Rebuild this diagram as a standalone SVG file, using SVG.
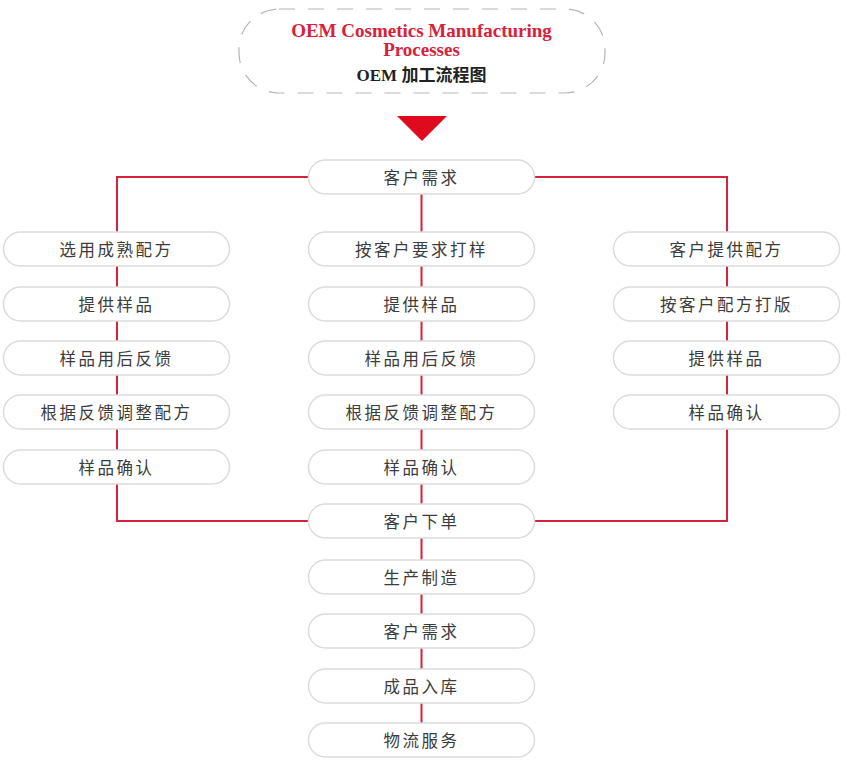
<svg xmlns="http://www.w3.org/2000/svg" width="859" height="763" viewBox="0 0 859 763">
<style>
.box{fill:#fff;stroke:#dcdcdc;stroke-width:1.5}
.lbl{font-family:"Noto Sans CJK SC","Noto Sans",sans-serif;font-size:16.5px;fill:#3c3c3c;text-anchor:middle;dominant-baseline:central;letter-spacing:2.5px}
.conn{fill:none;stroke:#d8213b;stroke-width:2}
.ttl{font-family:"Liberation Serif",serif;font-weight:bold;font-size:19px;fill:#d8213b;text-anchor:middle}
</style>
<rect width="859" height="763" fill="#fff"/>
<g id="title">
<rect x="239" y="9" width="366" height="84" rx="40" ry="40" fill="none" stroke="#b5b5b5" stroke-width="1.2" stroke-dasharray="16 13"/>
<text class="ttl" x="421.5" y="37">OEM Cosmetics Manufacturing</text>
<text class="ttl" x="421.5" y="56">Processes</text>
<text x="421.5" y="81" text-anchor="middle" font-family="'Liberation Serif','Noto Sans CJK SC',serif" font-weight="bold" font-size="17px" fill="#222">OEM 加工流程图</text>
<polygon points="397,116 447,116 422,141" fill="#e00a1e"/>
</g>
<g id="connectors">
<path class="conn" d="M421.5 177 V740"/>
<path class="conn" d="M421.5 177 H117 V521 H727 V177 H421.5"/>
</g>
<g id="c1"><rect class="box" x="308.5" y="160" width="226" height="34" rx="17"/><text class="lbl" x="421.5" y="177">客户需求</text></g>
<g id="l1"><rect class="box" x="3.5" y="232" width="226" height="34" rx="17"/><text class="lbl" x="116.5" y="249">选用成熟配方</text></g>
<g id="l2"><rect class="box" x="3.5" y="287" width="226" height="34" rx="17"/><text class="lbl" x="116.5" y="304">提供样品</text></g>
<g id="l3"><rect class="box" x="3.5" y="341" width="226" height="34" rx="17"/><text class="lbl" x="116.5" y="358">样品用后反馈</text></g>
<g id="l4"><rect class="box" x="3.5" y="395" width="226" height="34" rx="17"/><text class="lbl" x="116.5" y="412">根据反馈调整配方</text></g>
<g id="l5"><rect class="box" x="3.5" y="450" width="226" height="34" rx="17"/><text class="lbl" x="116.5" y="467">样品确认</text></g>
<g id="m1"><rect class="box" x="308.5" y="232" width="226" height="34" rx="17"/><text class="lbl" x="421.5" y="249">按客户要求打样</text></g>
<g id="m2"><rect class="box" x="308.5" y="287" width="226" height="34" rx="17"/><text class="lbl" x="421.5" y="304">提供样品</text></g>
<g id="m3"><rect class="box" x="308.5" y="341" width="226" height="34" rx="17"/><text class="lbl" x="421.5" y="358">样品用后反馈</text></g>
<g id="m4"><rect class="box" x="308.5" y="395" width="226" height="34" rx="17"/><text class="lbl" x="421.5" y="412">根据反馈调整配方</text></g>
<g id="m5"><rect class="box" x="308.5" y="450" width="226" height="34" rx="17"/><text class="lbl" x="421.5" y="467">样品确认</text></g>
<g id="r1"><rect class="box" x="613.5" y="232" width="226" height="34" rx="17"/><text class="lbl" x="726.5" y="249">客户提供配方</text></g>
<g id="r2"><rect class="box" x="613.5" y="287" width="226" height="34" rx="17"/><text class="lbl" x="726.5" y="304">按客户配方打版</text></g>
<g id="r3"><rect class="box" x="613.5" y="341" width="226" height="34" rx="17"/><text class="lbl" x="726.5" y="358">提供样品</text></g>
<g id="r4"><rect class="box" x="613.5" y="395" width="226" height="34" rx="17"/><text class="lbl" x="726.5" y="412">样品确认</text></g>
<g id="c2"><rect class="box" x="308.5" y="504" width="226" height="34" rx="17"/><text class="lbl" x="421.5" y="521">客户下单</text></g>
<g id="c3"><rect class="box" x="308.5" y="560" width="226" height="34" rx="17"/><text class="lbl" x="421.5" y="577">生产制造</text></g>
<g id="c4"><rect class="box" x="308.5" y="614" width="226" height="34" rx="17"/><text class="lbl" x="421.5" y="631">客户需求</text></g>
<g id="c5"><rect class="box" x="308.5" y="669" width="226" height="34" rx="17"/><text class="lbl" x="421.5" y="686">成品入库</text></g>
<g id="c6"><rect class="box" x="308.5" y="723" width="226" height="34" rx="17"/><text class="lbl" x="421.5" y="740">物流服务</text></g>
</svg>
